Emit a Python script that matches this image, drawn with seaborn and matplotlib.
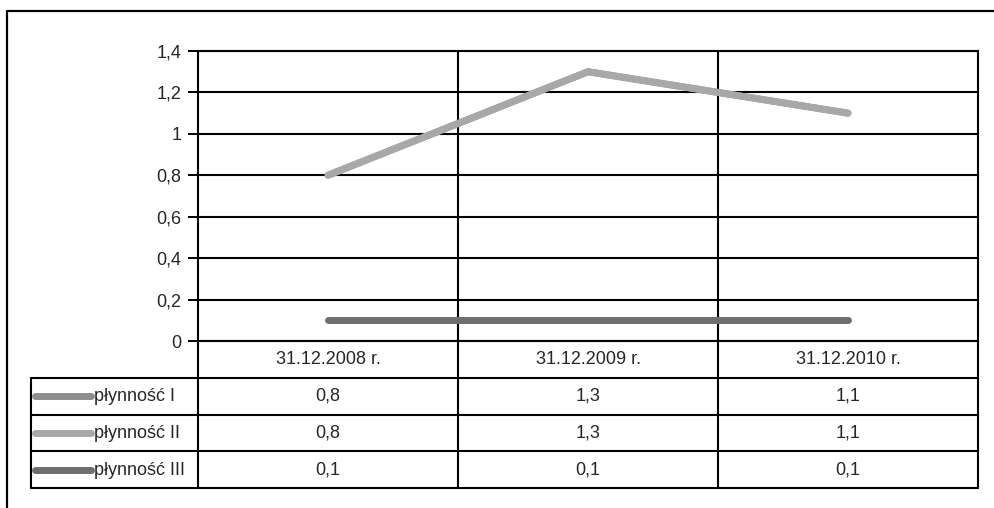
import numpy as np
import pandas as pd
import matplotlib
matplotlib.use("Agg")
import matplotlib.pyplot as plt
from matplotlib.lines import Line2D
from matplotlib import font_manager
import seaborn as sns

# ---- data ----
categories = ["31.12.2008 r.", "31.12.2009 r.", "31.12.2010 r."]
series_names = ["płynność I", "płynność II", "płynność III"]
plynnosc_1 = [0.8, 1.3, 1.1]
plynnosc_2 = [0.8, 1.3, 1.1]
plynnosc_3 = [0.1, 0.1, 0.1]
series_values = [plynnosc_1, plynnosc_2, plynnosc_3]
y_ticks = [0, 0.2, 0.4, 0.6, 0.8, 1.0, 1.2, 1.4]
colors = ["#8e8e8e", "#a8a8a8", "#6e6e6e"]

sns.set_theme(style="white")
avail = {f.name for f in font_manager.fontManager.ttflist}
fams = [f for f in ["Liberation Sans Narrow", "Liberation Sans", "DejaVu Sans"] if f in avail]
plt.rcParams["font.family"] = fams
FS = 14.5 if "Liberation Sans Narrow" in avail else 13

W, H = 994, 508
fig = plt.figure(figsize=(W / 100, H / 100), dpi=100)
fig.patch.set_facecolor("white")

def fx(px):
    return px / W

def fy(py):
    return 1 - py / H

# layout (pixels)
PL, PR, PT, PB = 198, 978, 51, 341
TL, TB = 31, 488

ax = fig.add_axes([fx(PL), fy(PB), fx(PR - PL), (PB - PT) / H])

rows = []
for name, vals in zip(series_names, series_values):
    for i, v in enumerate(vals):
        rows.append({"seria": name, "x": i, "y": v})
df = pd.DataFrame(rows)

sns.lineplot(data=df, x="x", y="y", hue="seria", hue_order=series_names,
             palette=colors, linewidth=5.0, legend=False, ax=ax,
             solid_capstyle="round", sort=False, zorder=5)

ax.set_xlim(-0.5, len(categories) - 0.5)
ax.set_ylim(0, 1.4)

def fmt(v):
    if abs(v - round(v)) < 1e-9:
        return str(int(round(v)))
    return f"{v:.1f}".replace(".", ",")

ax.set_yticks(y_ticks)
ax.set_yticklabels([fmt(v) for v in y_ticks], fontsize=FS)
ax.set_xticks([])
ax.set_xlabel("")
ax.set_ylabel("")
ax.tick_params(axis="y", direction="out", length=7, width=1.4, color="black",
               pad=5, left=True)
for v in y_ticks:
    ax.axhline(v, color="black", lw=1.5, zorder=1)
for i in range(len(categories) - 1):
    ax.axvline(i + 0.5, color="black", lw=1.5, zorder=1)
for s in ax.spines.values():
    s.set_visible(True)
    s.set_color("black")
    s.set_linewidth(1.5)

# ---- data table ----
colw = (PR - PL) / len(categories)
left = -0.5 - (PL - TL) / colw
ncat = len(categories)
nrows = 1 + len(series_names)
axt = fig.add_axes([fx(TL), fy(TB), fx(PR - TL), (TB - PB) / H])
axt.set_xlim(left, ncat - 0.5)
axt.set_ylim(nrows, 0)
axt.axis("off")

lk = dict(color="black", lw=1.5, clip_on=False)
for r in range(1, nrows + 1):
    axt.plot([left, ncat - 0.5], [r, r], **lk)
for c in range(ncat + 1):
    axt.plot([c - 0.5, c - 0.5], [0, nrows], **lk)
axt.plot([left, left], [1, nrows], **lk)

for i, cat in enumerate(categories):
    axt.text(i, 0.5, cat, ha="center", va="center", fontsize=FS)

k0 = left + 4 / colw
k1 = left + 60 / colw
for r, (name, vals, col) in enumerate(zip(series_names, series_values, colors), start=1):
    axt.plot([k0, k1], [r + 0.5, r + 0.5], color=col, lw=5.0,
             solid_capstyle="round", clip_on=False)
    axt.text(k1 + 3 / colw, r + 0.52, name, ha="left", va="center", fontsize=FS)
    for i, v in enumerate(vals):
        axt.text(i, r + 0.5, fmt(v), ha="center", va="center", fontsize=FS)

# outer chart border (extends past the image on right/bottom)
fig.add_artist(Line2D([fx(7), fx(7), fx(W + 5)], [fy(H + 5), fy(11), fy(11)],
                      color="black", lw=1.6, transform=fig.transFigure))

fig.savefig("out.png", dpi=100, facecolor="white")
